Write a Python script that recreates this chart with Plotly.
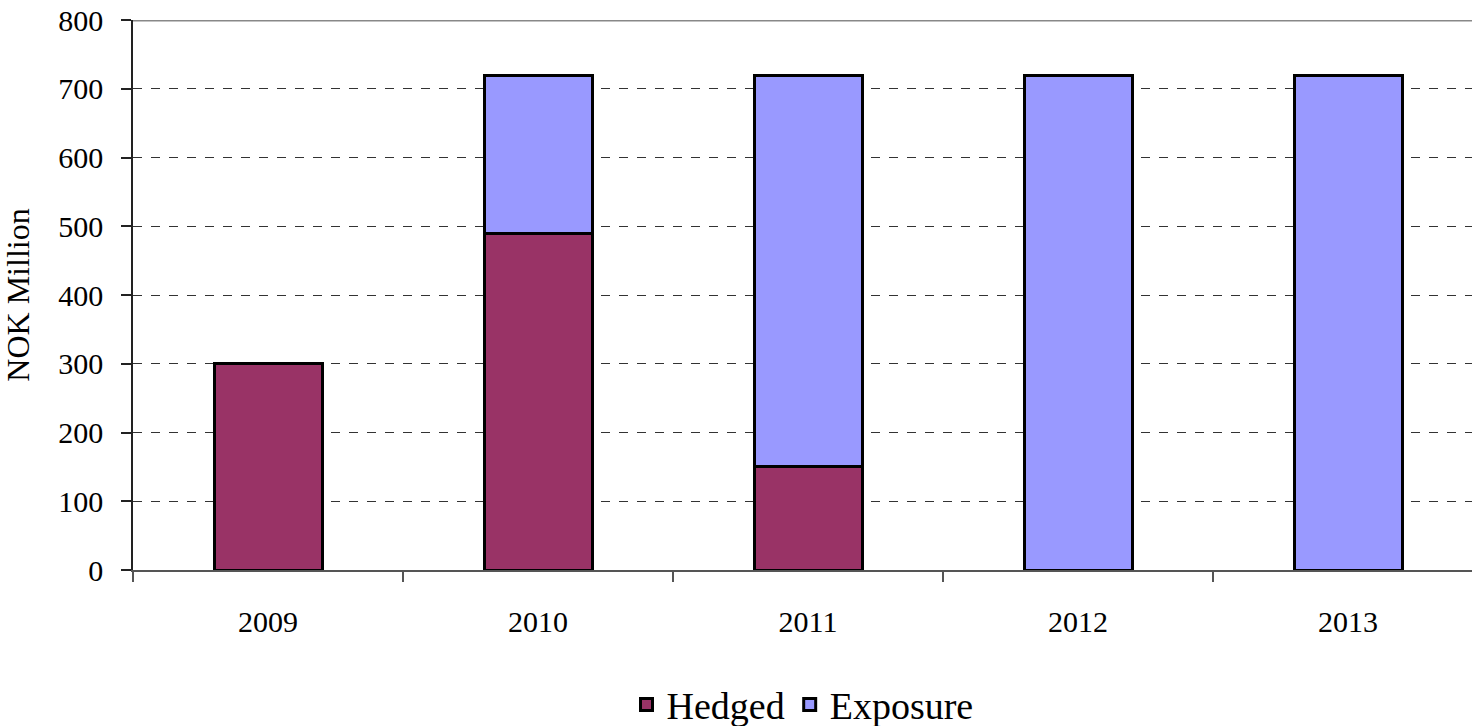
import plotly.graph_objects as go

years = ["2009", "2010", "2011", "2012", "2013"]
hedged = [300, 490, 150, 0, 0]
exposure = [0, 230, 570, 720, 720]
y_ticks = [0, 100, 200, 300, 400, 500, 600, 700, 800]

FONT = "Liberation Serif, Times New Roman, serif"

fig = go.Figure()
fig.add_trace(go.Bar(
    x=years, y=hedged, name="Hedged",
    marker=dict(color="#993366", line=dict(color="black", width=3)),
    width=0.4,
))
fig.add_trace(go.Bar(
    x=years, y=exposure, name="Exposure",
    marker=dict(color="#9999FF", line=dict(color="black", width=3)),
    width=0.4,
))

W, H = 1472, 726
L, T, B = 133, 20, 156
plot_w = W - L
cat_w = 270.0

fig.update_layout(
    width=W, height=H,
    barmode="stack",
    paper_bgcolor="white", plot_bgcolor="white",
    margin=dict(l=L, r=0, t=T, b=B, autoexpand=False),
    font=dict(family=FONT, color="black", size=30),
    showlegend=True,
    legend=dict(
        orientation="h", x=0.5, xanchor="center", y=-0.245, yanchor="middle",
        font=dict(size=38, family=FONT), traceorder="normal",
        bgcolor="rgba(0,0,0,0)",
    ),
    xaxis=dict(
        type="category", range=[-0.5, -0.5 + plot_w / cat_w],
        tickson="boundaries", ticks="outside", ticklen=10, tickcolor="#555",
        tickwidth=1.5,
        showline=True, linecolor="#555", linewidth=1.5,
        showgrid=False, ticklabelstandoff=24,
        tickfont=dict(size=30, family=FONT),
    ),
    yaxis=dict(
        range=[0, 800], tickvals=y_ticks,
        ticks="outside", ticklen=10, tickcolor="#222", tickwidth=1.5,
        showline=True, linecolor="#222", linewidth=1.5,
        showgrid=True, gridcolor="#333", griddash="dash", gridwidth=1,
        zeroline=False, ticklabelstandoff=12,
        tickfont=dict(size=30, family=FONT),
        title=dict(text="NOK Million", font=dict(size=32, family=FONT), standoff=22),
    ),
    shapes=[dict(type="line", xref="paper", yref="y", x0=0, x1=1, y0=800, y1=800,
                 line=dict(color="#888", width=3), layer="above")],
)

fig.write_html("out.html", post_script="document.body.style.margin='0';",
               config={"displayModeBar": False})
